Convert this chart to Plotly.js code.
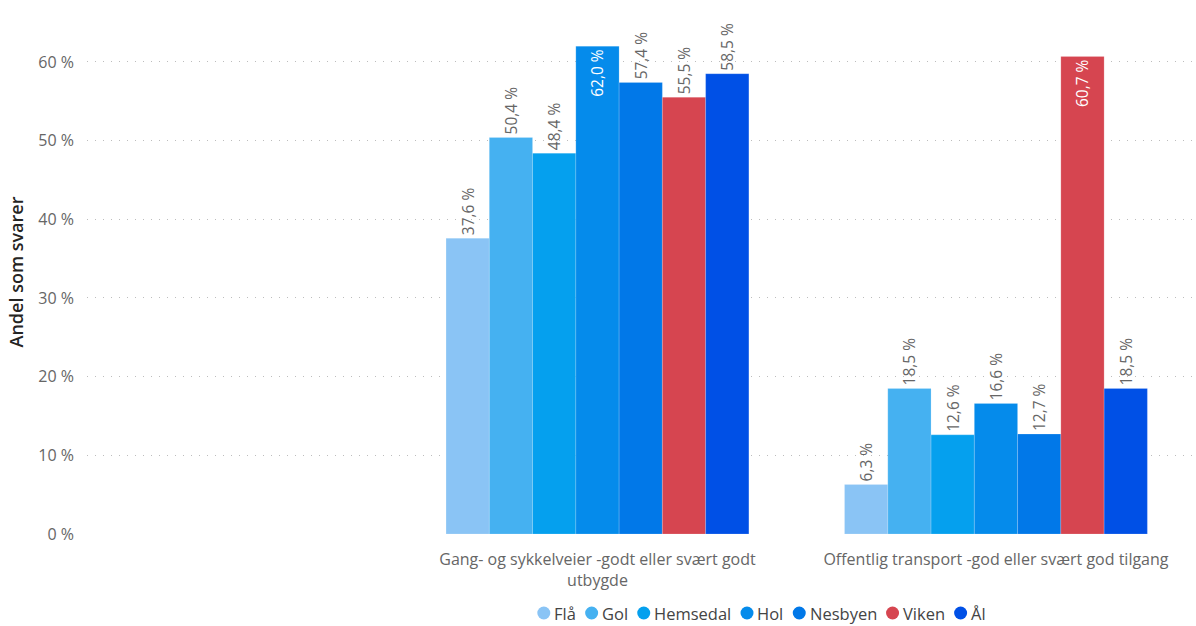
<!DOCTYPE html>
<html>
<head>
<meta charset="utf-8">
<script src="https://cdn.plot.ly/plotly-3.0.1.min.js"></script>
<style>html,body{margin:0;padding:0;background:#fff;}#chart{width:1196px;height:626px;}</style>
</head>
<body>
<div id="chart"></div>
<script>
const categories = ['Gang- og sykkelveier -godt eller svært godt<br>utbygde', 'Offentlig transport -god eller svært god tilgang'];
const seriesNames = ['Flå', 'Gol', 'Hemsedal', 'Hol', 'Nesbyen', 'Viken', 'Ål'];
const fla = [37.6, 6.3];
const gol = [50.4, 18.5];
const hemsedal = [48.4, 12.6];
const hol = [62.0, 16.6];
const nesbyen = [57.4, 12.7];
const viken = [55.5, 60.7];
const al = [58.5, 18.5];
const seriesValues = [fla, gol, hemsedal, hol, nesbyen, viken, al];
const colors = ['#8AC4F5', '#45B1F1', '#05A0EE', '#058BEB', '#0178E8', '#D64550', '#0050E6'];

const fmt = v => v.toFixed(1).replace('.', ',') + ' %';
const FONT = '"Segoe UI", "Open Sans", sans-serif';

const traces = seriesValues.map((vals, i) => ({
  type: 'bar',
  name: seriesNames[i],
  x: categories,
  y: vals,
  marker: {color: colors[i], line: {width: 0.5, color: 'rgba(255,255,255,0.35)'}},
  text: vals.map(fmt),
  textposition: vals.map(v => v > 59.5 ? 'inside' : 'outside'),
  insidetextanchor: 'end',
  textangle: -90,
  constraintext: 'none',
  cliponaxis: false,
  textfont: {family: FONT, size: 15.5},
  insidetextfont: {family: FONT, size: 15.5, color: '#ffffff'},
  outsidetextfont: {family: FONT, size: 15.5, color: '#666666'},
  showlegend: false,
  hoverinfo: 'skip'
}));

// Custom Power BI-style legend (circle + label), laid out by measured text width
const W = 1196, H = 626;
const M = {l: 87, r: 0, t: 10, b: 92};
const plotW = W - M.l - M.r, plotH = H - M.t - M.b;
const LEG_FONT = 16.5, DOT = 13, DOT_GAP = 3, ITEM_GAP = 10;
const ctx = document.createElement('canvas').getContext('2d');
ctx.font = LEG_FONT + 'px "Open Sans"';
const widths = seriesNames.map(n => ctx.measureText(n).width);
const total = widths.reduce((a, w) => a + DOT + DOT_GAP + w, 0) + ITEM_GAP * (seriesNames.length - 1);
const legendCenterPx = 761, legendYPx = 613;
let cursor = legendCenterPx - total / 2;
const toPX = px => (px - M.l) / plotW;
const legY = (H - M.b - legendYPx) / plotH;
const shapes = [], annotations = [];
seriesNames.forEach((n, i) => {
  const cx = cursor + DOT / 2;
  shapes.push({
    type: 'circle', xref: 'paper', yref: 'paper',
    xsizemode: 'pixel', ysizemode: 'pixel',
    xanchor: toPX(cx), yanchor: legY,
    x0: -DOT / 2, x1: DOT / 2, y0: -DOT / 2, y1: DOT / 2,
    fillcolor: colors[i], line: {width: 0}
  });
  annotations.push({
    xref: 'paper', yref: 'paper', x: toPX(cursor + DOT + DOT_GAP), y: legY,
    xanchor: 'left', yanchor: 'middle', showarrow: false, borderpad: 0,
    text: n, font: {family: FONT, size: LEG_FONT, color: '#444444'}
  });
  cursor += DOT + DOT_GAP + widths[i] + ITEM_GAP;
});

const layout = {
  width: W, height: H,
  margin: {l: M.l, r: M.r, t: M.t, b: M.b, autoexpand: false},
  paper_bgcolor: '#ffffff', plot_bgcolor: '#ffffff',
  font: {family: FONT, color: '#666666'},
  barmode: 'group',
  bargap: 0.24,
  bargroupgap: 0,
  showlegend: false,
  xaxis: {
    type: 'category',
    range: [-1.281, 1.502],
    showgrid: false, zeroline: false, showline: false,
    ticks: '', ticklabelstandoff: 14,
    tickfont: {family: FONT, size: 16, color: '#666666'}
  },
  yaxis: {
    range: [0, 66.6],
    tickvals: [0, 10, 20, 30, 40, 50, 60],
    ticktext: ['0 %', '10 %', '20 %', '30 %', '40 %', '50 %', '60 %'],
    showgrid: true, gridcolor: '#BDBDBD', griddash: '1px,7px', gridwidth: 1,
    zeroline: false, showline: false, ticks: '',
    ticklabelstandoff: 12,
    tickfont: {family: FONT, size: 16, color: '#666666'},
    title: {text: 'Andel som svarer', font: {family: FONT, size: 18, color: '#252423', weight: 600}, standoff: 10}
  },
  shapes: shapes,
  annotations: annotations
};

Plotly.newPlot('chart', traces, layout, {displayModeBar: false, staticPlot: true});
</script>
</body>
</html>
